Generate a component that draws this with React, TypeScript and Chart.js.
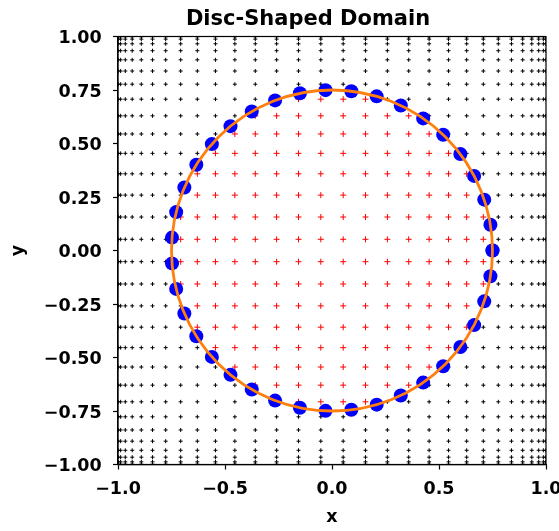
import { useEffect, useRef } from 'react';
import { Chart, registerables } from 'chart.js';

Chart.register(...registerables);

const WIDTH = 559;
const HEIGHT = 531;

// Collocation nodes along each axis (clustered toward the edges)
const gridX = [
  -0.9986, -0.9877, -0.9659, -0.9336, -0.891, -0.8387, -0.7771, -0.7071, -0.6293, -0.5446,
  -0.454, -0.3584, -0.2588, -0.1564, -0.0523, 0.0523, 0.1564, 0.2588, 0.3584, 0.454,
  0.5446, 0.6293, 0.7071, 0.7771, 0.8387, 0.891, 0.9336, 0.9659, 0.9877, 0.9986,
];
const gridY = [
  -0.9986, -0.9877, -0.9659, -0.9336, -0.891, -0.8387, -0.7771, -0.7071, -0.6293, -0.5446,
  -0.454, -0.3584, -0.2588, -0.1564, -0.0523, 0.0523, 0.1564, 0.2588, 0.3584, 0.454,
  0.5446, 0.6293, 0.7071, 0.7771, 0.8387, 0.891, 0.9336, 0.9659, 0.9877, 0.9986,
];

const discRadius = 0.75;

// Boundary sample points on the disc edge
const boundaryX = [
  0.75, 0.7403, 0.7114, 0.6641, 0.5996, 0.5195, 0.426, 0.3215, 0.2087, 0.0904,
  -0.0302, -0.15, -0.2659, -0.375, -0.4743, -0.5614, -0.634, -0.6899, -0.7282, -0.7476,
  -0.7476, -0.7282, -0.6899, -0.634, -0.5614, -0.4743, -0.375, -0.2659, -0.15, -0.0302,
  0.0904, 0.2087, 0.3215, 0.426, 0.5195, 0.5996, 0.6641, 0.7114, 0.7403, 0.75,
];
const boundaryY = [
  0, 0.1203, 0.2375, 0.3485, 0.4506, 0.541, 0.6172, 0.6776, 0.7204, 0.7445,
  0.7494, 0.7348, 0.7013, 0.6495, 0.581, 0.4973, 0.4006, 0.2941, 0.1795, 0.0603,
  -0.0603, -0.1795, -0.2941, -0.4006, -0.4973, -0.581, -0.6495, -0.7013, -0.7348, -0.7494,
  -0.7445, -0.7204, -0.6776, -0.6172, -0.541, -0.4506, -0.3485, -0.2375, -0.1203, 0,
];

const xTickValues = [-1, -0.5, 0, 0.5, 1];
const xTickLabels = ['\u22121.0', '\u22120.5', '0.0', '0.5', '1.0'];
const yTickValues = [-1, -0.75, -0.5, -0.25, 0, 0.25, 0.5, 0.75, 1];
const yTickLabels = ['\u22121.00', '\u22120.75', '\u22120.50', '\u22120.25', '0.00', '0.25', '0.50', '0.75', '1.00'];

const titleText = 'Disc-Shaped Domain';

const FONT = '"DejaVu Sans", sans-serif';
const TICK_FONT = { family: FONT, size: 17.5, weight: 'bold' as const };

type Pt = { x: number; y: number };

function splitGrid() {
  const inside: Pt[] = [];
  const outside: Pt[] = [];
  for (const gx of gridX) {
    for (const gy of gridY) {
      const p = { x: gx, y: gy };
      if (gx * gx + gy * gy < discRadius * discRadius) inside.push(p);
      else outside.push(p);
    }
  }
  return { inside, outside };
}

// Disc outline, axes frame and the figure title
const overlayPlugin = {
  id: 'discOverlay',
  afterDatasetsDraw(chart: any) {
    const { ctx, chartArea, scales } = chart;
    const xs = scales.x;
    const ys = scales.y;
    const cx = xs.getPixelForValue(0);
    const cy = ys.getPixelForValue(0);
    const rx = Math.abs(xs.getPixelForValue(discRadius) - cx);
    const ry = Math.abs(ys.getPixelForValue(discRadius) - cy);
    ctx.save();
    ctx.beginPath();
    ctx.ellipse(cx, cy, rx, ry, 0, 0, Math.PI * 2);
    ctx.strokeStyle = '#ff7f0e';
    ctx.lineWidth = 2.8;
    ctx.stroke();

    ctx.strokeStyle = '#000000';
    ctx.lineWidth = 1.2;
    ctx.strokeRect(chartArea.left, chartArea.top, chartArea.right - chartArea.left, chartArea.bottom - chartArea.top);

    ctx.fillStyle = '#000000';
    ctx.font = `bold 21px ${FONT}`;
    ctx.textAlign = 'center';
    ctx.textBaseline = 'alphabetic';
    ctx.fillText(titleText, 308, 25);
    ctx.restore();
  },
};

export default function App() {
  const canvasRef = useRef<HTMLCanvasElement | null>(null);

  useEffect(() => {
    const canvas = canvasRef.current;
    if (!canvas) return;
    const { inside, outside } = splitGrid();
    const boundary = boundaryX.map((bx, i) => ({ x: bx, y: boundaryY[i] }));

    const chart = new Chart(canvas, {
      type: 'scatter',
      data: {
        datasets: [
          {
            label: 'boundary',
            data: boundary,
            pointStyle: 'circle',
            pointRadius: 7,
            pointBackgroundColor: '#0000ff',
            pointBorderWidth: 0,
            borderColor: '#0000ff',
            order: 1,
            clip: 0,
          },
          {
            label: 'interior',
            data: inside,
            pointStyle: 'cross',
            pointRadius: 3,
            pointBorderWidth: 1,
            pointBorderColor: '#ff0000',
            borderColor: '#ff0000',
            order: 2,
            clip: 0,
          },
          {
            label: 'exterior',
            data: outside,
            pointStyle: 'cross',
            pointRadius: 2,
            pointBorderWidth: 1,
            pointBorderColor: '#000000',
            borderColor: '#000000',
            order: 3,
            clip: 0,
          },
        ],
      },
      options: {
        responsive: false,
        animation: false,
        events: [],
        layout: { padding: { left: 0, right: 13, top: 36.5, bottom: 0 } },
        plugins: {
          legend: { display: false },
          title: { display: false },
          tooltip: { enabled: false },
        },
        scales: {
          x: {
            type: 'linear',
            min: -1,
            max: 1,
            afterFit: (s: any) => {
              s.height = 66.5;
              s.paddingLeft = 0;
              s.paddingRight = 0;
            },
            afterBuildTicks: (s: any) => {
              s.ticks = xTickValues.map((v) => ({ value: v }));
            },
            ticks: {
              autoSkip: false,
              maxRotation: 0,
              padding: 9.3,
              color: '#000000',
              font: TICK_FONT,
              callback: (_v: any, i: number) => xTickLabels[i],
            },
            grid: {
              drawOnChartArea: false,
              drawTicks: true,
              tickLength: 5,
              tickColor: '#000000',
              tickWidth: 1.2,
            },
            border: { display: true, color: '#000000', width: 1.2 },
            title: {
              display: true,
              text: 'x',
              color: '#000000',
              font: TICK_FONT,
              padding: { top: 0, bottom: 3.5 },
            },
          },
          y: {
            type: 'linear',
            min: -1,
            max: 1,
            afterFit: (s: any) => {
              s.width = 118;
              s.paddingTop = 0;
              s.paddingBottom = 0;
            },
            afterBuildTicks: (s: any) => {
              s.ticks = yTickValues.map((v) => ({ value: v }));
            },
            ticks: {
              autoSkip: false,
              padding: 11.3,
              labelOffset: 2,
              color: '#000000',
              font: TICK_FONT,
              callback: (_v: any, i: number) => yTickLabels[i],
            },
            grid: {
              drawOnChartArea: false,
              drawTicks: true,
              tickLength: 5,
              tickColor: '#000000',
              tickWidth: 1.2,
            },
            border: { display: true, color: '#000000', width: 1.2 },
            title: {
              display: true,
              text: 'y',
              color: '#000000',
              font: TICK_FONT,
              padding: { top: 7.8, bottom: 0 },
            },
          },
        },
      },
      plugins: [overlayPlugin],
    });

    return () => {
      chart.destroy();
    };
  }, []);

  return (
    <div style={{ position: 'absolute', left: 0, top: 0, width: WIDTH, height: HEIGHT, background: '#ffffff' }}>
      <canvas ref={canvasRef} width={WIDTH} height={HEIGHT} style={{ display: 'block' }} />
    </div>
  );
}
